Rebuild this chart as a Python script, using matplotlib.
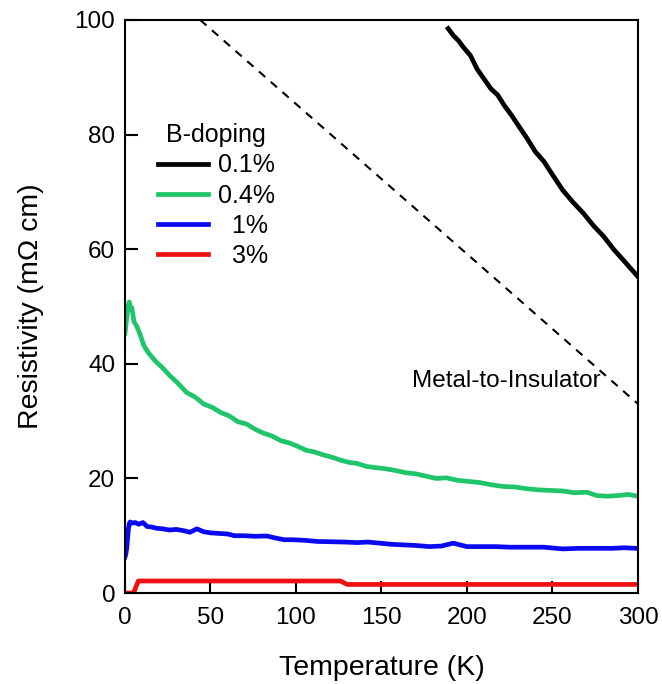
import matplotlib
matplotlib.use("Agg")
import matplotlib.pyplot as plt

plt.rcParams['font.family'] = ['Liberation Sans', 'DejaVu Sans']

# B-doping 0.1 %
T_01 = [189, 192, 195, 198, 202, 206, 210, 214, 218, 222, 226, 230, 235, 240,
        245, 250, 256, 262, 268, 274, 280, 286, 292, 300]
rho_01 = [98.5, 97.3, 96.4, 95.2, 93.8, 91.4, 89.7, 88.0, 86.9, 85.0, 83.4, 81.6,
          79.4, 77.0, 75.3, 73.0, 70.3, 68.2, 66.3, 64.1, 62.2, 59.9, 57.9, 55.2]

# B-doping 0.4 %
T_04 = [0, 1, 2, 2.5, 3.2, 4, 5.3, 7, 9, 11, 14, 18, 22, 26, 31, 36, 41, 46, 51,
        56, 61, 66, 71, 76, 81, 86, 91, 96, 101, 106, 111, 116, 121, 126, 131,
        136, 141, 146, 152, 158, 164, 170, 176, 182, 188, 194, 200, 207, 214,
        221, 228, 235, 242, 249, 256, 263, 270, 276, 282, 288, 294, 300]
rho_04 = [45.3, 48.0, 50.3, 50.8, 49.5, 49.8, 47.3, 46.5, 45.0, 43.2, 41.8, 40.4,
          39.3, 38.0, 36.6, 35.0, 34.2, 33.0, 32.4, 31.5, 30.9, 29.9, 29.5, 28.6,
          27.9, 27.4, 26.6, 26.2, 25.6, 24.9, 24.6, 24.1, 23.7, 23.2, 22.8, 22.6,
          22.1, 21.9, 21.7, 21.4, 21.0, 20.8, 20.4, 20.0, 20.1, 19.7, 19.5, 19.3,
          18.9, 18.6, 18.5, 18.2, 18.0, 17.9, 17.8, 17.5, 17.6, 17.0, 16.9, 17.0,
          17.2, 16.9]

# B-doping 1 %
T_1 = [0, 0.5, 1, 1.5, 2, 2.5, 3, 4, 6, 8, 10.5, 13, 16, 18.5, 22, 26, 30, 34,
       38, 42, 46, 50, 55, 60, 64, 70, 76, 83, 88, 93, 98, 105, 112.5, 120, 128,
       136, 142, 149, 156, 163, 170, 178, 185, 192, 200, 210, 217, 225, 235, 245,
       256, 265, 275, 285, 292, 299]
rho_1 = [6.3, 6.8, 7.8, 9.5, 11.2, 12.1, 12.4, 12.2, 12.3, 12.0, 12.3, 11.6, 11.5,
         11.3, 11.2, 11.0, 11.1, 10.9, 10.6, 11.2, 10.7, 10.5, 10.4, 10.3, 10.0,
         10.0, 9.9, 9.95, 9.6, 9.3, 9.3, 9.2, 9.0, 8.95, 8.9, 8.8, 8.9, 8.7, 8.5,
         8.4, 8.3, 8.1, 8.2, 8.7, 8.1, 8.1, 8.1, 8.0, 8.0, 8.0, 7.7, 7.8, 7.8,
         7.8, 7.9, 7.8]

# B-doping 3 %
T_3 = [0, 5, 7.8, 126, 130, 300]
rho_3 = [0, 0, 2.1, 2.1, 1.5, 1.5]

# metal-to-insulator boundary
T_mit = [44, 300]
rho_mit = [100, 33]

labels = ["0.1%", "0.4%", "  1%", "  3%"]
colors = ["#000000", "#1fc46b", "#0a0af0", "#ee1111"]

fig = plt.figure(figsize=(6.62, 6.84), dpi=100)
ax = fig.add_axes([0.1888, 0.133, 0.7749, 0.8378])

ax.plot(T_mit, rho_mit, color="black", lw=1.5, linestyle=(0, (4, 3.5)))
ax.plot(T_01, rho_01, color=colors[0], lw=3.4, label=labels[0])
ax.plot(T_04, rho_04, color=colors[1], lw=3.4, label=labels[1])
ax.plot(T_1, rho_1, color=colors[2], lw=3.4, label=labels[2])
ax.plot(T_3, rho_3, color=colors[3], lw=3.4, label=labels[3])

ax.set_xlim(0, 300)
ax.set_ylim(0, 100)
ax.set_xticks([0, 50, 100, 150, 200, 250, 300])
ax.set_yticks([0, 20, 40, 60, 80, 100])
ax.tick_params(direction="in", length=9, width=1.5, labelsize=17.5,
               top=False, right=False)
ax.tick_params(axis="x", pad=10)
ax.tick_params(axis="y", pad=7)
for s in ax.spines.values():
    s.set_linewidth(1.5)

ax.set_xlabel("Temperature (K)", fontsize=20.5, labelpad=19)
ax.set_ylabel("Resistivity (m\u03a9 cm)", fontsize=20.5, labelpad=22)

ax.text(168, 37.0, "Metal-to-Insulator", fontsize=17.5, va="center", ha="left")

handles, labs = ax.get_legend_handles_labels()
leg = ax.legend(handles, labs, title="B-doping", loc="upper left",
                bbox_to_anchor=(0.064, 0.82), frameon=False, fontsize=18,
                title_fontsize=18, handlelength=2.0, handletextpad=0.4,
                labelspacing=0.25, borderpad=0, borderaxespad=0)

fig.savefig("out.png", dpi=100)
